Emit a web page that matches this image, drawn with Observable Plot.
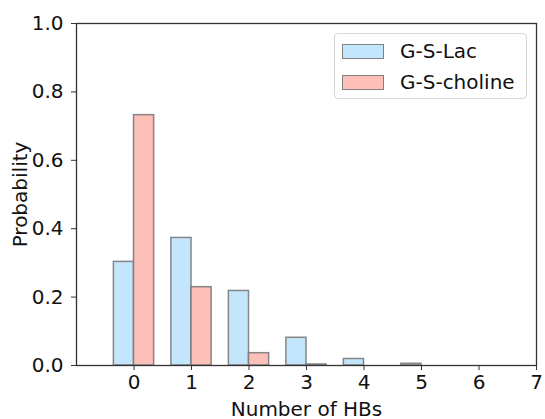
<!DOCTYPE html>
<html>
<head>
<meta charset="utf-8">
<script src="https://cdn.jsdelivr.net/npm/d3@7"></script>
<script src="https://cdn.jsdelivr.net/npm/@observablehq/plot@0.6"></script>
<style>
  html, body { margin: 0; padding: 0; background: white; }
  #wrap { position: relative; width: 545px; height: 419px; font-family: "DejaVu Sans", sans-serif; }
  .legend {
    position: absolute; left: 334px; top: 33px; width: 191px; height: 64px;
    border: 1px solid #d6d6d6; border-radius: 4px; background: rgba(255,255,255,0.8);
  }
  .legend .row { position: absolute; left: 7px; height: 20px; display: flex; align-items: center; }
  .legend .swatch { width: 40px; height: 13px; border: 1.5px solid #808080; box-sizing: content-box; }
  .legend .label { margin-left: 16px; font-size: 20px; line-height: 20px; color: #111; }
</style>
</head>
<body>
<div id="wrap"></div>
<script>
// Number of hydrogen bonds and the probability of each count
const hbCounts = [0, 1, 2, 3, 4, 5, 6];
const lacProb = [0.303, 0.373, 0.218, 0.081, 0.019, 0.005, 0];
const cholineProb = [0.732, 0.229, 0.036, 0.003, 0, 0, 0];
const seriesNames = ["G-S-Lac", "G-S-choline"];
const seriesFill = ["#c3e6fc", "#fdc0b9"];
const xTicks = [0, 1, 2, 3, 4, 5, 6, 7];
const yTicks = [0, 0.2, 0.4, 0.6, 0.8, 1.0];

const barWidth = 0.35;
const rows = [];
hbCounts.forEach((n, i) => {
  rows.push({series: seriesNames[0], n, p: lacProb[i], x1: n - barWidth, x2: n});
  rows.push({series: seriesNames[1], n, p: cholineProb[i], x1: n, x2: n + barWidth});
});

const chart = Plot.plot({
  width: 545,
  height: 419,
  marginLeft: 76,
  marginRight: 9,
  marginTop: 23,
  marginBottom: 54,
  style: {fontFamily: "DejaVu Sans, sans-serif", fontSize: "20px", color: "#111", background: "white"},
  x: {domain: [-1, 7]},
  y: {domain: [0, 1]},
  color: {domain: seriesNames, range: seriesFill},
  marks: [
    Plot.rectY(rows, {x1: "x1", x2: "x2", y1: 0, y2: "p", fill: "series", stroke: "#7a7a7a", strokeWidth: 1.5, strokeOpacity: 0.9}),
    Plot.frame({stroke: "#333", strokeWidth: 1.3}),
    Plot.axisX({ticks: xTicks, tickFormat: d => String(d), tickSize: 5, tickPadding: 4, label: null, stroke: "#333"}),
    Plot.axisY({ticks: yTicks, tickFormat: d3.format(".1f"), tickSize: 5, tickPadding: 8, label: null, stroke: "#333"}),
    Plot.text(["Number of HBs"], {frameAnchor: "bottom", dy: 50, fontSize: 20, fill: "#111"}),
    Plot.text(["Probability"], {frameAnchor: "left", textAnchor: "middle", dx: -56, rotate: -90, fontSize: 20, fill: "#111"})
  ]
});

const wrap = document.getElementById("wrap");
wrap.appendChild(chart);

// Legend box in the upper right of the plot area
const legend = document.createElement("div");
legend.className = "legend";
seriesNames.forEach((name, i) => {
  const row = document.createElement("div");
  row.className = "row";
  row.style.top = (7 + i * 31) + "px";
  const sw = document.createElement("div");
  sw.className = "swatch";
  sw.style.background = seriesFill[i];
  const lab = document.createElement("span");
  lab.className = "label";
  lab.textContent = name;
  row.appendChild(sw);
  row.appendChild(lab);
  legend.appendChild(row);
});
wrap.appendChild(legend);
</script>
</body>
</html>
